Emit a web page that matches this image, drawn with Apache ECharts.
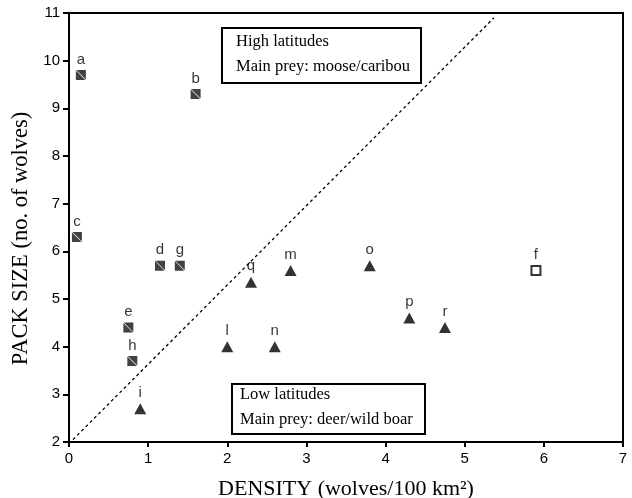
<!DOCTYPE html>
<html>
<head>
<meta charset="utf-8">
<script src="https://cdn.jsdelivr.net/npm/echarts@6/dist/echarts.min.js"></script>
<style>
  html, body { margin: 0; padding: 0; background: #fff; }
  #chart { width: 632px; height: 498px; }
</style>
</head>
<body>
<div id="chart"></div>
<script>
// high latitude packs (filled squares)
const highLabels = ['a', 'b', 'c', 'd', 'g', 'e', 'h']
const highX = [0.15, 1.6, 0.1, 1.15, 1.4, 0.75, 0.8]
const highY = [9.7, 9.3, 6.3, 5.7, 5.7, 4.4, 3.7]

// low latitude packs (triangles)
const lowLabels = ['i', 'l', 'n', 'q', 'm', 'o', 'p', 'r']
const lowX = [0.9, 2.0, 2.6, 2.3, 2.8, 3.8, 4.3, 4.75]
const lowY = [2.7, 4.0, 4.0, 5.35, 5.6, 5.7, 4.6, 4.4]

// open square
const openLabels = ['f']
const openX = [5.9]
const openY = [5.6]

// dashed separation line
const lineX = [0.05, 5.37]
const lineY = [2.05, 10.9]

const xTicks = [0, 1, 2, 3, 4, 5, 6, 7]
const yTicks = [2, 3, 4, 5, 6, 7, 8, 9, 10, 11]

const zip = (xs, ys, names) => xs.map((x, i) => ({ value: [x, ys[i]], name: names ? names[i] : '' }))

// black square with a thin diagonal slit
const hatchSquare = 'path://M0.45,0 L10,0 L10,9.55 Z M0,0.45 L0,10 L9.55,10 Z'

const pointLabel = {
  show: true,
  position: 'top',
  distance: 3,
  formatter: p => p.name,
  fontFamily: 'Liberation Sans',
  fontSize: 15,
  color: '#000'
}

const chart = echarts.init(document.getElementById('chart'))

chart.setOption({
  animation: false,
  backgroundColor: '#fff',
  grid: {
    left: 69, right: 9, top: 13, bottom: 56,
    outerBoundsMode: 'none',
    containLabel: false,
    show: true,
    borderColor: '#000',
    borderWidth: 2
  },
  xAxis: {
    type: 'value',
    min: xTicks[0],
    max: xTicks[xTicks.length - 1],
    interval: 1,
    name: 'DENSITY (wolves/100 km²)',
    nameLocation: 'middle',
    nameGap: 36,
    nameTextStyle: { fontFamily: 'Liberation Serif', fontSize: 22, color: '#000' },
    axisLine: { show: true, lineStyle: { color: '#000', width: 2 } },
    axisTick: { show: true, length: 5, lineStyle: { color: '#000', width: 2 } },
    axisLabel: { margin: 9, fontFamily: 'Liberation Sans', fontSize: 15, color: '#000' },
    splitLine: { show: false }
  },
  yAxis: {
    type: 'value',
    min: yTicks[0],
    max: yTicks[yTicks.length - 1],
    interval: 1,
    name: 'PACK SIZE (no. of wolves)',
    nameLocation: 'middle',
    nameGap: 35,
    nameTextStyle: { fontFamily: 'Liberation Serif', fontSize: 22.5, color: '#000', padding: [0, 22, 0, 0] },
    axisLine: { show: true, lineStyle: { color: '#000', width: 2 } },
    axisTick: { show: true, length: 6, lineStyle: { color: '#000', width: 2 } },
    axisLabel: { margin: 9, fontFamily: 'Liberation Sans', fontSize: 15, color: '#000' },
    splitLine: { show: false }
  },
  series: [
    {
      type: 'line',
      data: lineX.map((x, i) => [x, lineY[i]]),
      symbol: 'none',
      silent: true,
      lineStyle: { color: '#000', width: 1.3, type: [3, 3] }
    },
    {
      type: 'scatter',
      data: zip(highX, highY, highLabels),
      symbol: hatchSquare,
      symbolSize: 10,
      itemStyle: { color: '#111' },
      label: pointLabel
    },
    {
      type: 'scatter',
      data: zip(lowX, lowY, lowLabels),
      symbol: 'triangle',
      symbolSize: [12, 11],
      itemStyle: { color: '#000' },
      label: pointLabel
    },
    {
      type: 'scatter',
      data: zip(openX, openY, openLabels),
      symbol: 'rect',
      symbolSize: 9,
      itemStyle: { color: '#fff', borderColor: '#000', borderWidth: 2 },
      label: pointLabel
    }
  ],
  graphic: [
    {
      type: 'group',
      left: 221, top: 27,
      children: [
        { type: 'rect', shape: { x: 0, y: 0, width: 199, height: 55 },
          style: { fill: '#fff', stroke: '#000', lineWidth: 2 } },
        { type: 'text', x: 14, y: 14,
          style: { text: 'High latitudes', font: '16.5px "Liberation Serif"', fill: '#000', verticalAlign: 'middle' } },
        { type: 'text', x: 14, y: 39,
          style: { text: 'Main prey: moose/caribou', font: '16.5px "Liberation Serif"', fill: '#000', verticalAlign: 'middle' } }
      ]
    },
    {
      type: 'group',
      left: 231, top: 383,
      children: [
        { type: 'rect', shape: { x: 0, y: 0, width: 193, height: 50 },
          style: { fill: '#fff', stroke: '#000', lineWidth: 2 } },
        { type: 'text', x: 8, y: 11,
          style: { text: 'Low latitudes', font: '16.5px "Liberation Serif"', fill: '#000', verticalAlign: 'middle' } },
        { type: 'text', x: 8, y: 36,
          style: { text: 'Main prey: deer/wild boar', font: '16.5px "Liberation Serif"', fill: '#000', verticalAlign: 'middle' } }
      ]
    }
  ]
})
</script>
</body>
</html>
